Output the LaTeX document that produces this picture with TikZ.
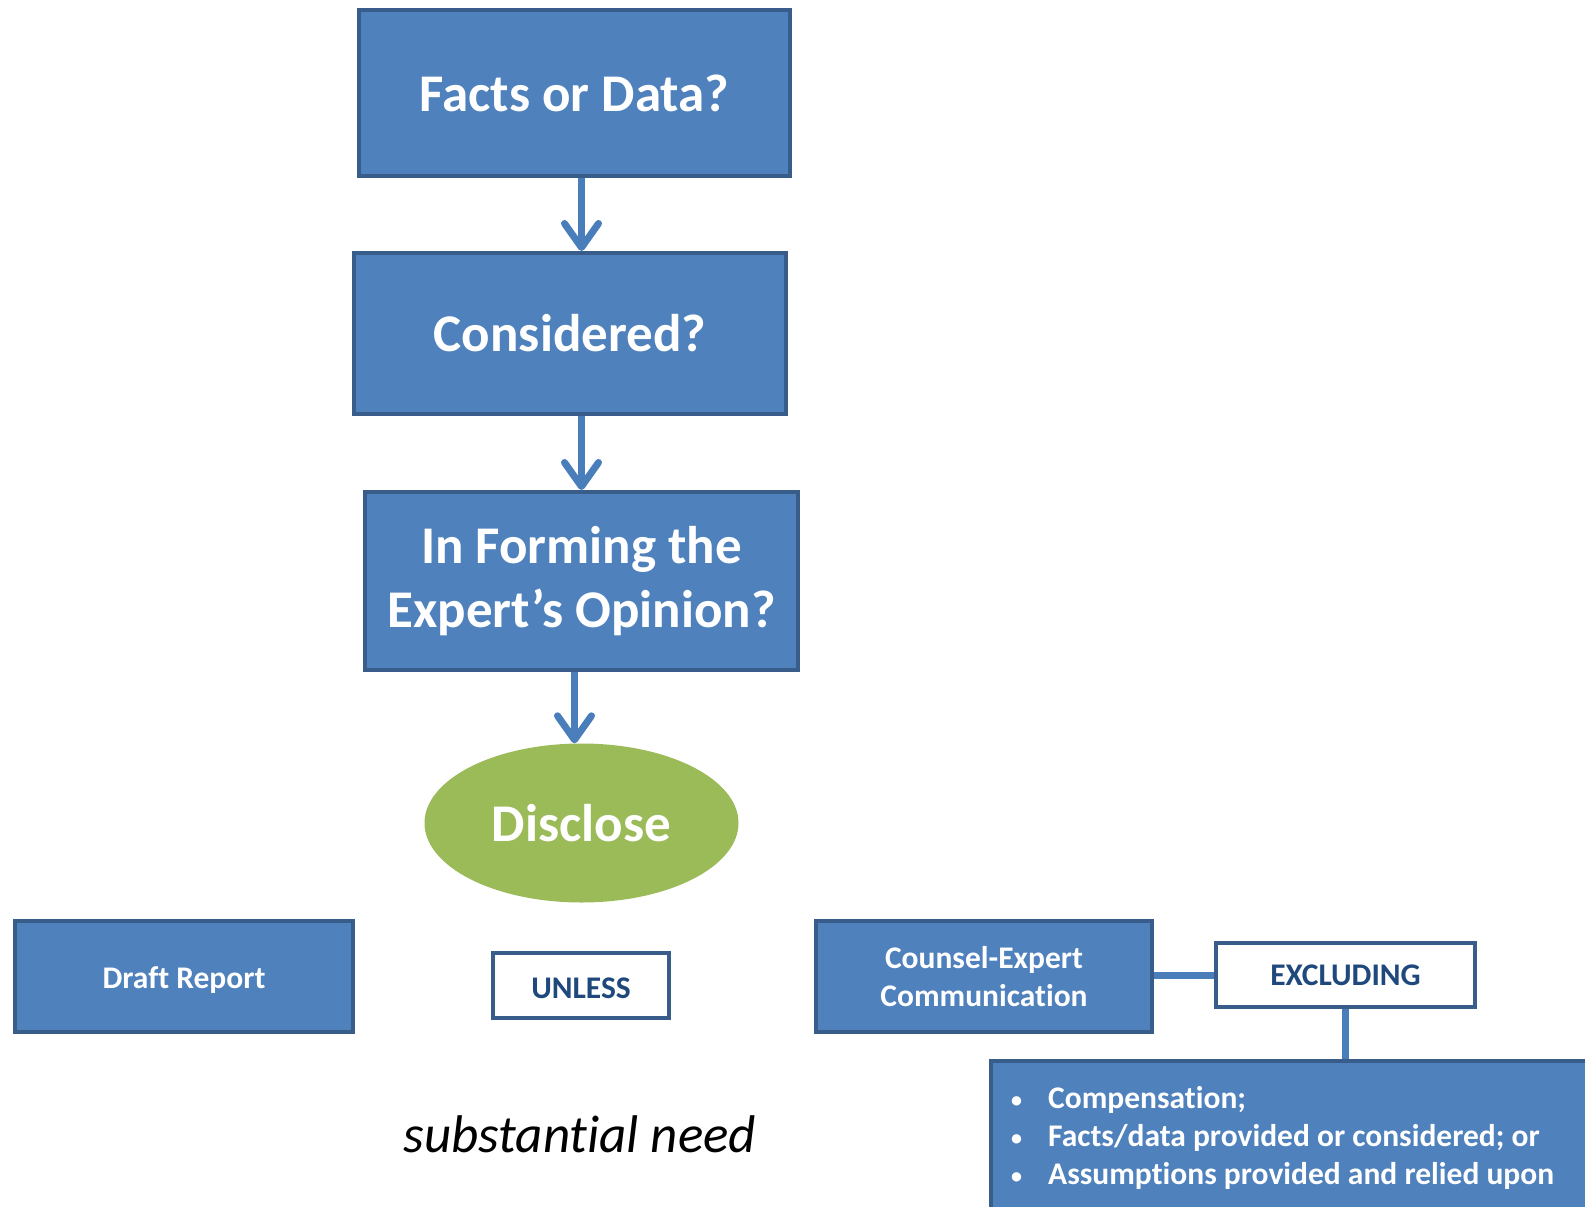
\documentclass[tikz,border=0pt]{standalone}
\usepackage{fontspec}
\setmainfont{Carlito}[Ligatures={NoCommon}]
\usetikzlibrary{arrows.meta,shapes.geometric,calc}
\definecolor{boxfill}{HTML}{4F81BD}
\definecolor{boxline}{HTML}{385D8A}
\definecolor{arrcol}{HTML}{4A7EBB}
\definecolor{discgreen}{HTML}{9BBB59}
\definecolor{navytext}{HTML}{1F497D}
\newcommand{\smallbul}{\makebox[37pt][l]{\raisebox{1pt}{\fontsize{22}{22}\selectfont\textbullet}}}
\tikzset{
  bluebox/.style={rectangle, draw=boxline, line width=4pt, fill=boxfill, text=white, font=\bfseries, align=center, inner sep=0pt},
  bigtext/.style={font=\fontsize{53}{64}\selectfont\bfseries},
  smalltext/.style={font=\fontsize{31.5}{38.4}\selectfont\bfseries},
  whitebox/.style={rectangle, draw=boxline, line width=4pt, fill=white, text=navytext, inner sep=0pt},
  arr/.style={draw=arrcol, line width=7pt, -{Straight Barb[length=24pt,width=34pt,round]}},
  link/.style={draw=arrcol, line width=7pt},
  listline/.style={anchor=base west, inner sep=0pt, text=white, font=\fontsize{31.5}{38.4}\selectfont\bfseries}
}
\begin{document}
\begin{tikzpicture}[x=1pt,y=-1pt]
\useasboundingbox (0,0) rectangle (1585,1207);
\begin{scope}
\clip (0,0) rectangle (1585,1207);
\node[bluebox, bigtext, minimum width=431, minimum height=166] (b1) at (574.5,93) {Facts or Data?};
\node[bluebox, bigtext, minimum width=432, minimum height=161] (b2) at (570,333.5) {Considered?};
\node[bluebox, bigtext, minimum width=433, minimum height=178] (b3) at (581.5,581) {In Forming the\\Expert’s Opinion?};
\node[ellipse, fill=discgreen, text=white, bigtext, minimum width=314, minimum height=159, inner sep=0pt] (ell) at (581.5,823) {Disclose};
\node[bluebox, smalltext, minimum width=338, minimum height=111, text height=30pt, text depth=6pt] (draft) at (184,976.5) {Draft Report};
\node[whitebox, smalltext, minimum width=176, minimum height=65, text height=26pt, text depth=0pt] (unless) at (581,985.5) {UNLESS};
\node[bluebox, smalltext, minimum width=336, minimum height=111] (counsel) at (984,976.5) {Counsel-Expert\\Communication};
\node[whitebox, smalltext, minimum width=259, minimum height=64] (excl) at (1345.5,975) {EXCLUDING};
\node[bluebox, anchor=north west, minimum width=640, minimum height=220] (list) at (989,1059) {};
\node[listline] (li1) at (1011,1108) {\smallbul Compensation;};
\node[listline] (li2) at (1011,1146.4) {\smallbul Facts/data provided or considered; or};
\node[listline] (li3) at (1011,1184.8) {\smallbul Assumptions provided and relied upon};
\node[anchor=base, inner sep=0pt, font=\fontsize{53}{64}\selectfont\itshape] (need) at (580,1152) {substantial need};
\draw[arr] (b1.south -| b3.center) -- (b2.north -| b3.center);
\draw[arr] (b2.south -| b3.center) -- (b3.north);
\draw[arr] ([xshift=-7pt]b3.south) -- ([xshift=-7pt]b3.south |- ell.north);
\draw[link] (counsel.east |- excl.west) -- (excl.west);
\draw[link] (excl.south) -- (excl.south |- list.north);
\end{scope}
\end{tikzpicture}
\end{document}
